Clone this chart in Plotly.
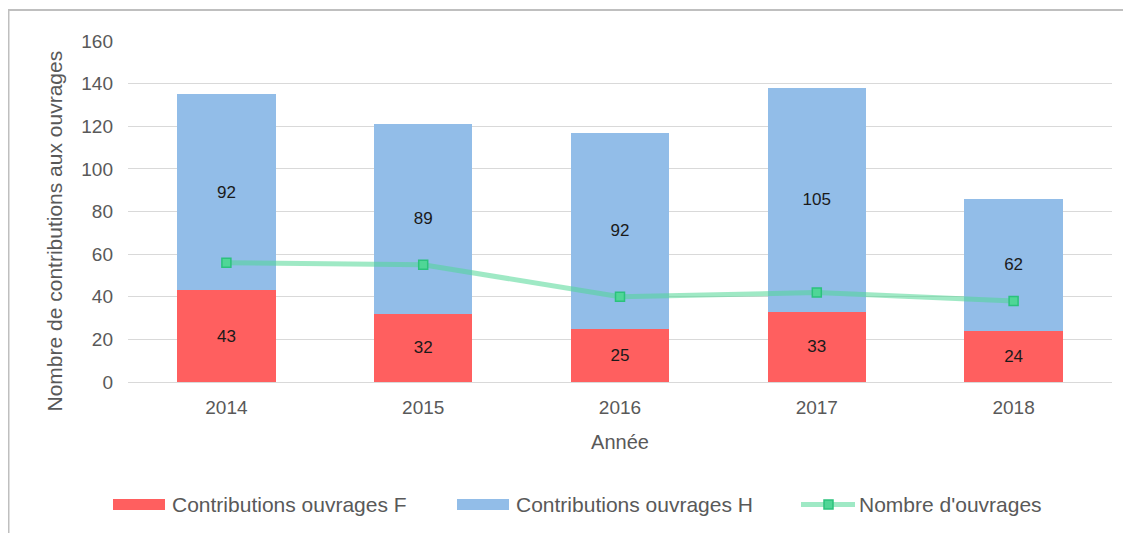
import plotly.graph_objects as go

years = ["2014", "2015", "2016", "2017", "2018"]
contrib_f = [43, 32, 25, 33, 24]
contrib_h = [92, 89, 92, 105, 62]
nb_ouvrages = [56, 55, 40, 42, 38]
legend_names = ["Contributions ouvrages F", "Contributions ouvrages H", "Nombre d'ouvrages"]

FONT = "Liberation Sans, Arial, sans-serif"
GREY = "#595959"
RED = "#ff5f5f"
BLUE = "#92bde8"
LINE = "rgba(80,215,150,0.55)"
MFILL = "#4fd696"
MLINE = "#2bc27c"

# figure geometry (pixels)
W, H = 1123, 525
ML, MR, MT, MB = 120, 19, 33, 151
PW, PH = W - ML - MR, H - MT - MB


def px(x):
    return (x - ML) / PW


def py(y):
    return (MT + PH - y) / PH


fig = go.Figure()
fig.add_trace(go.Bar(
    x=years, y=contrib_f, name=legend_names[0],
    marker=dict(color=RED, line=dict(width=0)),
    text=contrib_f, textposition="inside", insidetextanchor="middle",
    textfont=dict(color="#1a1a1a", size=17, family=FONT),
))
fig.add_trace(go.Bar(
    x=years, y=contrib_h, name=legend_names[1],
    marker=dict(color=BLUE, line=dict(width=0)),
    text=contrib_h, textposition="inside", insidetextanchor="middle",
    textfont=dict(color="#1a1a1a", size=17, family=FONT),
))
fig.add_trace(go.Scatter(
    x=years, y=nb_ouvrages, name=legend_names[2], mode="lines+markers",
    line=dict(color=LINE, width=5),
    marker=dict(symbol="square", size=9, color=MFILL, line=dict(color=MLINE, width=1.5)),
))

# legend drawn like the original (wide swatches)
ly = 496.5
shapes = [
    dict(type="path", xref="paper", yref="paper",
         path=f"M {px(0.5)},-0.6 L {px(0.5)},{py(2)} L 1.1,{py(2)}",
         line=dict(color="#bfbfbf", width=2)),
    dict(type="rect", xref="paper", yref="paper", x0=px(105), x1=px(157),
         y0=py(ly + 5.5), y1=py(ly - 5.5), fillcolor=RED, line=dict(width=0)),
    dict(type="rect", xref="paper", yref="paper", x0=px(449), x1=px(501),
         y0=py(ly + 5.5), y1=py(ly - 5.5), fillcolor=BLUE, line=dict(width=0)),
    dict(type="line", xref="paper", yref="paper", x0=px(793), x1=px(847),
         y0=py(ly), y1=py(ly), line=dict(color=LINE, width=5)),
    dict(type="rect", xref="paper", yref="paper", x0=px(816), x1=px(825),
         y0=py(ly + 4.5), y1=py(ly - 4.5), fillcolor=MFILL, line=dict(color=MLINE, width=1.5)),
]
annotations = [
    dict(text=legend_names[0], xref="paper", yref="paper", x=px(162), y=py(ly),
         xanchor="left", yanchor="middle", showarrow=False, font=dict(size=21, color=GREY)),
    dict(text=legend_names[1], xref="paper", yref="paper", x=px(506), y=py(ly),
         xanchor="left", yanchor="middle", showarrow=False, font=dict(size=21, color=GREY)),
    dict(text=legend_names[2], xref="paper", yref="paper", x=px(849), y=py(ly),
         xanchor="left", yanchor="middle", showarrow=False, font=dict(size=21, color=GREY)),
    dict(text="Nombre de contributions aux ouvrages", xref="paper", yref="paper",
         x=px(46.5), y=py(223), textangle=-90, xanchor="center", yanchor="middle",
         showarrow=False, font=dict(size=21, color=GREY)),
]

fig.update_layout(
    barmode="stack", bargap=0.5,
    width=W, height=H,
    margin=dict(l=ML, r=MR, t=MT, b=MB),
    paper_bgcolor="white", plot_bgcolor="white",
    font=dict(family=FONT, color=GREY, size=20),
    showlegend=False,
    xaxis=dict(
        title=dict(text="Année", font=dict(size=20, color=GREY), standoff=17),
        tickfont=dict(size=19, color=GREY), showgrid=False,
        showline=False, ticks="", ticklabelstandoff=12,
    ),
    yaxis=dict(
        range=[0, 160], dtick=20, tickfont=dict(size=19, color=GREY),
        gridcolor="#d9d9d9", gridwidth=1.3, zeroline=True, zerolinecolor="#d9d9d9",
        zerolinewidth=1.3, ticks="", showline=False, ticklabelstandoff=14,
    ),
    shapes=shapes,
    annotations=annotations,
)

fig.write_html("out.html")
